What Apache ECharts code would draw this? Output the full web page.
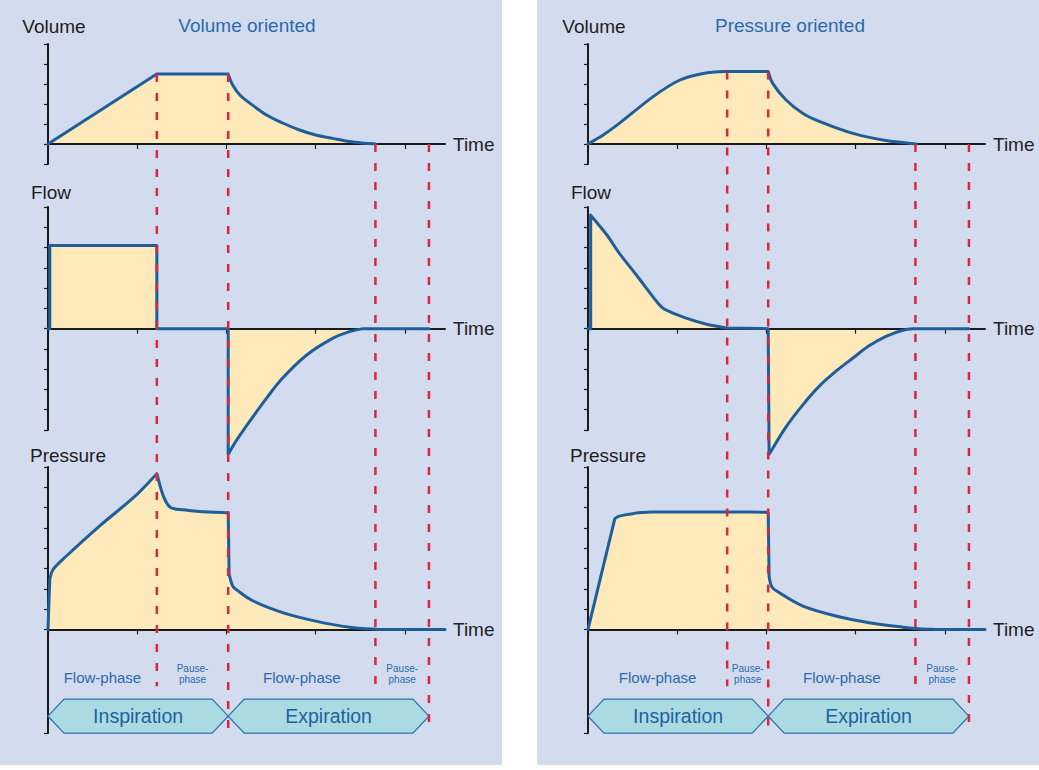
<!DOCTYPE html>
<html>
<head>
<meta charset="utf-8">
<title>Volume vs pressure oriented ventilation</title>
<script src="https://cdn.jsdelivr.net/npm/echarts@6/dist/echarts.min.js"></script>
<style>
  html, body { margin: 0; padding: 0; background: #fff; }
  #main { width: 1039px; height: 770px; }
</style>
</head>
<body>
<div id="main"></div>
<script>
// time axis, one tick per unit
const timeMax = 4.45
const timeTicks = [0, 1, 2, 3, 4]
const volumeTicks = [-1, 0, 1, 2, 3, 4, 5]
const flowTicks = [-5, -4, -3, -2, -1, 0, 1, 2, 3, 4, 5, 6]
const pressureTicks = [-5.1, 0, 1, 2, 3, 4, 5, 6, 7, 8]

// curves are lists of pieces [time, value]; a piece is drawn smooth,
// pieces are joined by straight lines (sharp corners)
const volumeVO = [
  [[0, 0]],
  [[1.22, 3.5]],
  [[2.02, 3.5], [2.07, 2.95], [2.15, 2.45], [2.26, 2.05], [2.45, 1.45], [2.63, 1.05], [2.82, 0.7], [3.0, 0.45], [3.19, 0.28], [3.38, 0.12], [3.55, 0.04], [3.67, 0]]
]
const flowVO = [
  [[0, 0]], [[0.02, 0]], [[0.02, 4.1]], [[1.22, 4.1]], [[1.22, 0]], [[2.02, 0]],
  [[2.02, -6.2], [2.1, -5.6], [2.26, -4.58], [2.45, -3.43], [2.63, -2.44], [2.9, -1.3], [3.19, -0.48], [3.38, -0.15], [3.53, 0]],
  [[4.27, 0]]
]
const pressureVO = [
  [[0, 0]],
  [[0.02, 2.48], [0.06, 2.97], [0.21, 3.63], [0.58, 5.1], [0.96, 6.5], [1.22, 7.67]],
  [[1.22, 7.67], [1.29, 6.6], [1.37, 6.02], [1.52, 5.89], [1.7, 5.81], [2.02, 5.74]],
  [[2.03, 2.7], [2.07, 2.14], [2.13, 1.9], [2.3, 1.4], [2.63, 0.83], [3.0, 0.41], [3.38, 0.11], [3.7, 0]],
  [[4.45, 0]]
]

const volumePO = [
  [[0, 0], [0.17, 0.45], [0.35, 1.03], [0.73, 2.37], [1.03, 3.2], [1.29, 3.53], [1.55, 3.62], [2.02, 3.62]],
  [[2.02, 3.62], [2.07, 3.03], [2.22, 2.2], [2.41, 1.53], [2.6, 1.12], [2.97, 0.53], [3.34, 0.17], [3.68, 0]]
]
const flowPO = [
  [[0, 0]], [[0.03, 0]],
  [[0.03, 5.6], [0.21, 4.63], [0.35, 3.72], [0.54, 2.66], [0.8, 1.18], [0.91, 0.85], [1.1, 0.52], [1.32, 0.23], [1.55, 0.03]],
  [[2.02, 0]],
  [[2.03, -6.2], [2.22, -4.85], [2.41, -3.75], [2.59, -2.85], [2.78, -2.1], [2.97, -1.45], [3.15, -0.85], [3.34, -0.38], [3.53, -0.08], [3.67, 0]],
  [[4.27, 0]]
]
const pressurePO = [
  [[0, 0]],
  [[0.3, 5.45], [0.35, 5.58], [0.5, 5.7], [0.73, 5.78], [1.85, 5.78], [2.02, 5.74]],
  [[2.03, 2.6], [2.06, 2.1], [2.14, 1.82], [2.41, 1.15], [2.78, 0.66], [3.15, 0.33], [3.53, 0.11], [3.71, 0.03], [3.9, 0]],
  [[4.45, 0]]
]

// phase boundaries (time) and where the dashed markers start (volume) / stop (pressure)
const phaseBoundsVO = [1.22, 2.02, 3.67, 4.27]
const phaseBoundsPO = [1.56, 2.02, 3.67, 4.27]
const dashTopVO = [3.5, 3.5, 0, 0]
const dashTopPO = [3.62, 3.62, 0, 0]
const dashBottom = [-2.8, -5.1, -2.8, -5.1]
const phaseNames = ['Flow-phase', 'Pause-\nphase', 'Flow-phase', 'Pause-\nphase']
const cycleNames = ['Inspiration', 'Expiration']

const font = 'Liberation Sans, Arial, sans-serif'
const axisColor = '#1b1b1b'
const curveColor = '#1e5f9b'
const fillColor = '#fde9b9'
const textBlue = '#2d69ab'
const dashColor = '#d8283c'

const plots = [
  { name: 'Volume', min: -1, max: 5, ticks: volumeTicks, top: 44, height: 120, nameGap: 8, namePad: 12 },
  { name: 'Flow', min: -5, max: 6, ticks: flowTicks, top: 207, height: 223, nameGap: 5, namePad: 6 },
  { name: 'Pressure', min: -5.1, max: 8, ticks: pressureTicks, top: 467, height: 266, nameGap: 2, namePad: 40 }
]

const panels = [
  { title: 'Volume oriented', left: 48, bgX: 0, titleX: 247, curves: [volumeVO, flowVO, pressureVO], bounds: phaseBoundsVO, dashTop: dashTopVO },
  { title: 'Pressure oriented', left: 588, bgX: 537, titleX: 790, curves: [volumePO, flowPO, pressurePO], bounds: phaseBoundsPO, dashTop: dashTopPO }
]

// catmull-rom through pixel points -> bezier path commands
function smoothTail (pts) {
  let d = ''
  for (let i = 0; i < pts.length - 1; i++) {
    const p0 = pts[i - 1] || pts[i]
    const p1 = pts[i]
    const p2 = pts[i + 1]
    const p3 = pts[i + 2] || p2
    const c1x = p1[0] + (p2[0] - p0[0]) / 6
    const c1y = p1[1] + (p2[1] - p0[1]) / 6
    const c2x = p2[0] - (p3[0] - p1[0]) / 6
    const c2y = p2[1] - (p3[1] - p1[1]) / 6
    d += ' C' + c1x + ',' + c1y + ' ' + c2x + ',' + c2y + ' ' + p2[0] + ',' + p2[1]
  }
  return d
}

function curveSeries (pieces, idx, area) {
  const points = [].concat(...pieces)
  return {
    type: 'custom',
    xAxisIndex: idx,
    yAxisIndex: idx,
    silent: true,
    clip: false,
    z: area ? 1 : 3,
    data: points,
    renderItem: (params, api) => {
      if (params.dataIndex !== 0) return null
      let d = ''
      pieces.forEach((piece, i) => {
        const pts = piece.map(v => api.coord(v))
        d += (i === 0 ? 'M' : ' L') + pts[0][0] + ',' + pts[0][1] + smoothTail(pts)
      })
      if (area) {
        const first = api.coord(points[0])
        const last = api.coord(points[points.length - 1])
        const base = api.coord([0, 0])[1]
        d += ' L' + last[0] + ',' + base + ' L' + first[0] + ',' + base + ' Z'
        return { type: 'path', shape: { pathData: d }, style: { fill: fillColor, stroke: null } }
      }
      return {
        type: 'path',
        shape: { pathData: d },
        style: { fill: 'none', stroke: curveColor, lineWidth: 3, lineJoin: 'round', lineCap: 'round' }
      }
    }
  }
}

const grids = []
const xAxes = []
const yAxes = []
const series = []
const graphics = []

panels.forEach((p, pi) => {
  graphics.push({
    type: 'rect', z: -10, silent: true,
    shape: { x: p.bgX, y: 0, width: 502, height: 765 },
    style: { fill: '#d3dcee' }
  })
  graphics.push({
    type: 'text', silent: true,
    x: p.titleX, y: 25,
    style: { text: p.title, fill: textBlue, fontSize: 19, fontFamily: font, align: 'center', verticalAlign: 'middle' }
  })

  plots.forEach((pl, k) => {
    const idx = pi * 3 + k
    grids.push({ left: p.left, top: pl.top, width: 397, height: pl.height, outerBoundsMode: 'none' })
    xAxes.push({
      type: 'value',
      gridIndex: idx,
      min: 0,
      max: timeMax,
      z: 2,
      name: 'Time',
      nameLocation: 'end',
      nameGap: 8,
      nameTextStyle: { fontSize: 19, color: '#222', fontFamily: font },
      axisLine: { onZero: true, lineStyle: { color: axisColor, width: 2 } },
      axisTick: { show: true, customValues: timeTicks, length: 5, lineStyle: { color: axisColor, width: 1.2 } },
      axisLabel: { show: false },
      splitLine: { show: false }
    })
    yAxes.push({
      type: 'value',
      gridIndex: idx,
      min: pl.min,
      max: pl.max,
      z: 2,
      name: pl.name,
      nameLocation: 'end',
      nameGap: pl.nameGap,
      nameTextStyle: { fontSize: 19, color: '#1e1e1e', fontFamily: font, padding: [0, 0, 0, pl.namePad] },
      axisLine: { show: true, lineStyle: { color: axisColor, width: 2 } },
      axisTick: { show: true, customValues: pl.ticks, length: 4, lineStyle: { color: axisColor, width: 1.2 } },
      axisLabel: { show: false },
      splitLine: { show: false }
    })
    // fill under the axes, curve on top of them
    series.push(curveSeries(p.curves[k], idx, true))
    series.push(curveSeries(p.curves[k], idx, false))
  })

  const pIdx = pi * 3 + 2
  const edges = [0].concat(p.bounds)
  // phase labels between the dashed markers
  series.push({
    type: 'custom', xAxisIndex: pIdx, yAxisIndex: pIdx, z: 4, silent: true,
    data: phaseNames.map((n, i) => [edges[i], edges[i + 1]]),
    renderItem: (params, api) => {
      const a = api.coord([api.value(0), 0])
      const b = api.coord([api.value(1), 0])
      const label = phaseNames[params.dataIndex]
      const small = label.indexOf('\n') >= 0
      const y = api.coord([0, small ? -2.2 : -2.38])[1]
      return {
        type: 'text',
        x: (a[0] + b[0]) / 2,
        y: y,
        style: {
          text: label, fill: textBlue, fontFamily: font,
          fontSize: small ? 10 : 15, lineHeight: small ? 11 : 16,
          align: 'center', verticalAlign: 'middle'
        }
      }
    }
  })
  // inspiration / expiration arrows
  series.push({
    type: 'custom', xAxisIndex: pIdx, yAxisIndex: pIdx, z: 4, silent: true,
    data: [[0, p.bounds[1]], [p.bounds[1], p.bounds[3]]],
    renderItem: (params, api) => {
      const a = api.coord([api.value(0), -4.27])
      const b = api.coord([api.value(1), -4.27])
      const y = a[1]
      const h = 17
      const d = 16
      return {
        type: 'group',
        children: [
          {
            type: 'polygon',
            shape: { points: [[a[0], y], [a[0] + d, y - h], [b[0] - d, y - h], [b[0], y], [b[0] - d, y + h], [a[0] + d, y + h]] },
            style: { fill: '#aadbe2', stroke: '#2f72ad', lineWidth: 1.3 }
          },
          {
            type: 'text',
            x: (a[0] + b[0]) / 2,
            y: y,
            style: { text: cycleNames[params.dataIndex], fill: '#245f9e', fontSize: 19.5, fontFamily: font, align: 'center', verticalAlign: 'middle' }
          }
        ]
      }
    }
  })
})

const chart = echarts.init(document.getElementById('main'), null, { renderer: 'svg' })
chart.setOption({
  animation: false,
  backgroundColor: '#ffffff',
  grid: grids,
  xAxis: xAxes,
  yAxis: yAxes,
  series: series,
  graphic: { elements: graphics }
})

// dashed phase markers run from the volume plot down through the pressure plot
const dashes = []
panels.forEach((p, pi) => {
  p.bounds.forEach((t, i) => {
    const top = chart.convertToPixel({ xAxisIndex: pi * 3, yAxisIndex: pi * 3 }, [t, p.dashTop[i]])
    const bottom = chart.convertToPixel({ xAxisIndex: pi * 3 + 2, yAxisIndex: pi * 3 + 2 }, [t, dashBottom[i]])
    dashes.push({
      type: 'line', z: 10, silent: true,
      shape: { x1: top[0], y1: top[1], x2: bottom[0], y2: bottom[1] },
      style: { stroke: dashColor, lineWidth: 2.5, lineDash: [8, 11] }
    })
  })
})
chart.setOption({ graphic: { elements: graphics.concat(dashes) } })
</script>
</body>
</html>
